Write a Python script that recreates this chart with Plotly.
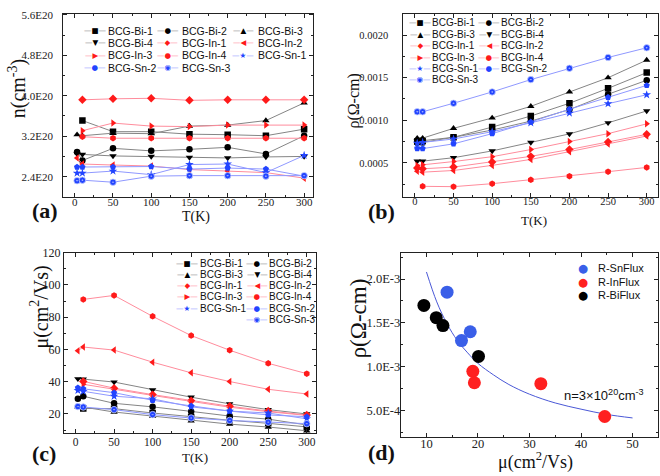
import plotly.graph_objects as go

W, H = 660, 476

# ---------------- data ----------------
T_full = [3, 10, 50, 100, 150, 200, 250, 300]
T_from10 = [10, 50, 100, 150, 200, 250, 300]

names = ["BCG-Bi-1", "BCG-Bi-2", "BCG-Bi-3", "BCG-Bi-4",
         "BCG-In-1", "BCG-In-2", "BCG-In-3", "BCG-In-4",
         "BCG-Sn-1", "BCG-Sn-2", "BCG-Sn-3"]

# (a) carrier concentration n (cm^-3)
n_bi1 = [3.51e20, 3.29e20, 3.29e20, 3.24e20, 3.23e20, 3.21e20, 3.34e20]
n_bi2 = [2.89e20, 2.72e20, 2.96e20, 2.91e20, 2.94e20, 2.98e20, 2.85e20, 3.21e20]
n_bi3 = [3.23e20, 3.21e20, 3.26e20, 3.25e20, 3.40e20, 3.42e20, 3.51e20, 3.86e20]
n_bi4 = [2.85e20, 2.84e20, 2.81e20, 2.80e20, 2.78e20, 2.77e20, 2.79e20, 2.80e20]
n_in1 = [3.92e20, 3.94e20, 3.95e20, 3.91e20, 3.92e20, 3.92e20, 3.92e20]
n_in2 = [2.77e20, 2.65e20, 2.63e20, 2.61e20, 2.54e20, 2.51e20, 2.48e20, 2.37e20]
n_in3 = [3.31e20, 3.46e20, 3.40e20, 3.39e20, 3.42e20, 3.42e20, 3.42e20]
n_in4 = [3.19e20, 3.16e20, 3.16e20, 3.16e20, 3.16e20, 3.16e20, 3.16e20]
n_sn1 = [2.47e20, 2.47e20, 2.51e20, 2.44e20, 2.64e20, 2.65e20, 2.48e20, 2.82e20]
n_sn2 = [2.59e20, 2.59e20, 2.59e20, 2.60e20, 2.55e20, 2.57e20, 2.55e20, 2.41e20]
n_sn3 = [2.32e20, 2.33e20, 2.29e20, 2.41e20, 2.42e20, 2.42e20, 2.41e20, 2.42e20]

# (b) resistivity rho (Ohm-cm)
rho_bi1 = [0.00075, 0.00076, 0.00080, 0.00092, 0.00105, 0.00120, 0.001375, 0.00156]
rho_bi2 = [0.00074, 0.00074, 0.00080, 0.000885, 0.00099, 0.001126, 0.001306, 0.00147]
rho_bi3 = [0.00079, 0.00079, 0.000905, 0.001027, 0.001164, 0.001333, 0.00150, 0.001707]
rho_bi4 = [0.00052, 0.00052, 0.00056, 0.00064, 0.00074, 0.00084, 0.00097, 0.00111]
rho_in1 = [0.00044, 0.00043, 0.00045, 0.00051, 0.000576, 0.000656, 0.000744, 0.000835]
rho_in2 = [0.00040, 0.00039, 0.00041, 0.00047, 0.00054, 0.00063, 0.00072, 0.000815]
rho_in3 = [0.00047, 0.000476, 0.000515, 0.000572, 0.000656, 0.00075, 0.000843, 0.000958]
rho_in4 = [0.000224, 0.00022, 0.000255, 0.00030, 0.000343, 0.000396, 0.000446]
rho_sn1 = [0.00073, 0.00074, 0.00078, 0.000866, 0.00097, 0.001084, 0.001195, 0.00130]
rho_sn2 = [0.000667, 0.000667, 0.000723, 0.000843, 0.00098, 0.00113, 0.00127, 0.00141]
rho_sn3 = [0.00110, 0.00110, 0.00120, 0.001333, 0.001478, 0.001611, 0.001738, 0.001852]

# (c) mobility mu (cm^2/Vs)
mu_bi1 = [23.4, 23.3, 20.6, 18.2, 16.1, 14.2, 12.0]
mu_bi2 = [29.4, 31.0, 26.6, 24.4, 21.6, 18.7, 16.8, 13.2]
mu_bi3 = [24.4, 24.3, 21.2, 18.7, 15.8, 13.7, 11.9, 9.6]
mu_bi4 = [41.8, 41.6, 39.8, 34.9, 30.4, 26.3, 22.7, 20.0]
mu_in1 = [40.2, 36.0, 32.0, 28.2, 24.8, 21.8, 19.4]
mu_in2 = [59.2, 61.5, 59.6, 52.1, 45.5, 40.1, 35.3, 32.4]
mu_in3 = [38.4, 35.2, 31.5, 27.8, 24.2, 21.4, 19.1]
mu_in4 = [91.0, 93.5, 80.5, 68.6, 59.5, 51.4, 45.0]
mu_sn1 = [34.6, 34.0, 31.0, 29.4, 24.4, 21.8, 20.6, 17.0]
mu_sn2 = [36.2, 35.6, 33.2, 28.5, 25.0, 21.8, 19.4, 18.3]
mu_sn3 = [24.6, 24.3, 22.7, 19.6, 17.5, 16.0, 14.9, 14.0]

# (d) rho vs mu at 300 K
d_mu_sn = [14.0, 16.8, 18.5]
d_rho_sn = [0.00185, 0.00130, 0.00140]
d_mu_in = [19.0, 19.3, 32.2, 44.6]
d_rho_in = [0.00095, 0.00082, 0.00081, 0.000436]
d_mu_bi = [9.5, 11.9, 13.2, 20.1]
d_rho_bi = [0.00170, 0.00156, 0.00147, 0.00112]
fit_mu = [10, 12, 14, 16, 18, 20, 23, 26, 30, 35, 40, 45, 50]
fit_rho = [0.00208, 0.00174, 0.00149, 0.00130, 0.00116, 0.00104, 0.00091,
           0.00080, 0.00069, 0.00059, 0.00052, 0.00046, 0.00042]

# tick labels
a_yticks = [2.4e20, 3.2e20, 4.0e20, 4.8e20, 5.6e20]
a_yticktext = ["2.4E20", "3.2E20", "4.0E20", "4.8E20", "5.6E20"]
d_yticks = [0.0005, 0.0010, 0.0015, 0.0020]
d_yticktext = ["5.0E-4", "1.0E-3", "1.5E-3", "2.0E-3"]

# ---------------- styles ----------------
BI_LINE, BI_MARK = "#858585", "#000000"
IN_LINE, IN_MARK = "#ff8c9c", "#ff1a1a"
SN_LINE, SN_MARK = "#8f98ff", "#2244ff"

style = {
    "BCG-Bi-1": ("square", BI_LINE, BI_MARK, "■"),
    "BCG-Bi-2": ("circle", BI_LINE, BI_MARK, "●"),
    "BCG-Bi-3": ("triangle-up", BI_LINE, BI_MARK, "▲"),
    "BCG-Bi-4": ("triangle-down", BI_LINE, BI_MARK, "▼"),
    "BCG-In-1": ("diamond", IN_LINE, IN_MARK, "◆"),
    "BCG-In-2": ("triangle-left", IN_LINE, IN_MARK, "◀"),
    "BCG-In-3": ("triangle-right", IN_LINE, IN_MARK, "▶"),
    "BCG-In-4": ("hexagon", IN_LINE, IN_MARK, "●"),
    "BCG-Sn-1": ("star", SN_LINE, SN_MARK, "★"),
    "BCG-Sn-2": ("pentagon", SN_LINE, SN_MARK, "●"),
    "BCG-Sn-3": ("circle-dot", SN_LINE, SN_MARK, "◉"),
}

panel_a = {"BCG-Bi-1": (T_from10, n_bi1), "BCG-Bi-2": (T_full, n_bi2),
           "BCG-Bi-3": (T_full, n_bi3), "BCG-Bi-4": (T_full, n_bi4),
           "BCG-In-1": (T_from10, n_in1), "BCG-In-2": (T_full, n_in2),
           "BCG-In-3": (T_from10, n_in3), "BCG-In-4": (T_from10, n_in4),
           "BCG-Sn-1": (T_full, n_sn1), "BCG-Sn-2": (T_full, n_sn2),
           "BCG-Sn-3": (T_full, n_sn3)}
panel_b = {"BCG-Bi-1": (T_full, rho_bi1), "BCG-Bi-2": (T_full, rho_bi2),
           "BCG-Bi-3": (T_full, rho_bi3), "BCG-Bi-4": (T_full, rho_bi4),
           "BCG-In-1": (T_full, rho_in1), "BCG-In-2": (T_full, rho_in2),
           "BCG-In-3": (T_full, rho_in3), "BCG-In-4": (T_from10, rho_in4),
           "BCG-Sn-1": (T_full, rho_sn1), "BCG-Sn-2": (T_full, rho_sn2),
           "BCG-Sn-3": (T_full, rho_sn3)}
panel_c = {"BCG-Bi-1": (T_from10, mu_bi1), "BCG-Bi-2": (T_full, mu_bi2),
           "BCG-Bi-3": (T_full, mu_bi3), "BCG-Bi-4": (T_full, mu_bi4),
           "BCG-In-1": (T_from10, mu_in1), "BCG-In-2": (T_full, mu_in2),
           "BCG-In-3": (T_from10, mu_in3), "BCG-In-4": (T_from10, mu_in4),
           "BCG-Sn-1": (T_full, mu_sn1), "BCG-Sn-2": (T_full, mu_sn2),
           "BCG-Sn-3": (T_full, mu_sn3)}

fig = go.Figure()

def add_series(panel, xa, ya):
    for nm in names:
        x, y = panel[nm]
        sym, lc, mc, _ = style[nm]
        mline = dict(width=0.8, color="#c8d0ff") if sym == "circle-dot" else dict(width=0)
        fig.add_trace(go.Scatter(
            x=x, y=y, mode="lines+markers", name=nm, showlegend=False,
            xaxis=xa, yaxis=ya,
            line=dict(color=lc, width=1),
            marker=dict(symbol=sym, size=6.5, color=mc, line=mline)))

add_series(panel_a, "x", "y")
add_series(panel_b, "x2", "y2")
add_series(panel_c, "x3", "y3")

# panel d
fig.add_trace(go.Scatter(x=fit_mu, y=fit_rho, mode="lines", line=dict(color="#4a58d6", width=1, shape="spline"),
                         showlegend=False, xaxis="x4", yaxis="y4", name="fit"))
for nm, xs, ys, col in [("R-SnFlux", d_mu_sn, d_rho_sn, "#3a5fe8"),
                        ("R-InFlux", d_mu_in, d_rho_in, "#ff2020"),
                        ("R-BiFlux", d_mu_bi, d_rho_bi, "#000000")]:
    fig.add_trace(go.Scatter(x=xs, y=ys, mode="markers", name=nm, showlegend=False,
                             xaxis="x4", yaxis="y4",
                             marker=dict(symbol="circle", size=13, color=col, line=dict(width=0))))

# ---------------- axes ----------------
def px_x(v):
    return v / W

def px_y(v):
    return 1 - v / H

def axis(dom, rng, fsize, standoff, **kw):
    d = dict(domain=dom, range=rng, showline=True, linecolor="#222", linewidth=1,
             mirror="ticks", ticks="inside", ticklen=4, tickwidth=1, tickcolor="#222",
             showgrid=False, zeroline=False,
             tickfont=dict(family="Liberation Serif", size=fsize, color="#222"),
             ticklabelstandoff=standoff)
    d.update(kw)
    return d

def minor(dt, **kw):
    m = dict(ticks="inside", ticklen=2, tickcolor="#222", showgrid=False, dtick=dt, tick0=0)
    m.update(kw)
    return m

AX_XA = [px_x(63.3), px_x(313.3)]
AX_XB = [px_x(403.3), px_x(658.3)]
AX_XC = [px_x(64), px_x(316)]
AX_XD = [px_x(400.7), px_x(658.3)]
AX_YTOP = [px_y(192.7), px_y(7)]
AX_YBOT_C = [px_y(432.7), px_y(249.3)]
AX_YBOT_D = [px_y(436.7), px_y(249.3)]

layout_axes = dict(
    xaxis=axis(AX_XA, [-15, 312], 11, -5, anchor="y", tickmode="linear", tick0=0, dtick=50,
               minor=minor(25)),
    yaxis=axis(AX_YTOP, [2.0e20, 5.62e20], 11, 7, anchor="x", tickmode="array",
               tickvals=a_yticks, ticktext=a_yticktext, minor=minor(0.4e20, tickmode="linear")),
    xaxis2=axis(AX_XB, [-15, 315], 10.5, -5, anchor="y2", tickmode="linear", tick0=0, dtick=50,
                minor=minor(25)),
    yaxis2=axis(AX_YTOP, [0.0001, 0.00225], 10.5, 12, anchor="x2", tickmode="linear", tick0=0,
                dtick=0.0005, tickformat=".4f", minor=minor(0.00025)),
    xaxis3=axis(AX_XC, [-15, 312], 11.5, -2, anchor="y3", tickmode="linear", tick0=0, dtick=50,
                minor=minor(25)),
    yaxis3=axis(AX_YBOT_C, [8, 120], 12, 0, anchor="x3", tickmode="linear", tick0=0, dtick=20,
                minor=minor(10)),
    xaxis4=axis(AX_XD, [5, 55], 12.5, -5, anchor="y4", tickmode="linear", tick0=0, dtick=10,
                minor=minor(5)),
    yaxis4=axis(AX_YBOT_D, [0.0002, 0.0023], 12.5, -3, anchor="x4", tickmode="array",
                tickvals=d_yticks, ticktext=d_yticktext, minor=minor(0.00025, tickmode="linear")),
)

# ---------------- annotations ----------------
ann = []

def text_at(x, y, txt, size, family="Liberation Serif", angle=0, color="#111", xanchor="center"):
    ann.append(dict(xref="paper", yref="paper", x=px_x(x), y=px_y(y), text=txt, showarrow=False,
                    textangle=angle, xanchor=xanchor, yanchor="middle", borderpad=0,
                    font=dict(family=family, size=size, color=color)))

def legend_entry(nm, kx, tx, y, fsize):
    sym, lc, mc, glyph = style[nm]
    key = f"<span style='color:{lc}'>—</span>{glyph}<span style='color:{lc}'>—</span>"
    ann.append(dict(xref="paper", yref="paper", x=px_x(kx), y=px_y(y), text=key, showarrow=False,
                    xanchor="center", yanchor="middle", borderpad=0,
                    font=dict(family="DejaVu Sans", size=7.5, color=mc)))
    text_at(tx, y, nm, fsize, family="Liberation Sans", xanchor="left")

# legend (a): 3 columns
rows_a = [24, 36.5, 49, 61.5]
cols_a = [(95, 107), (168, 181), (243, 257)]
for i, nm in enumerate(names):
    r, c = divmod(i, 3)
    legend_entry(nm, cols_a[c][0], cols_a[c][1], rows_a[r], 10.5)

# legend (b): 2 columns
rows_b = [16, 27.6, 39.2, 50.8, 62.4, 74]
cols_b = [(420, 431), (489, 499.5)]
for i, nm in enumerate(names):
    r, c = divmod(i, 2)
    legend_entry(nm, cols_b[c][0], cols_b[c][1], rows_b[r], 10)

# legend (c): 2 columns, last entry in right column
rows_c = [260, 271.4, 282.8, 294.2, 305.6, 317]
cols_c = [(187, 199), (257, 268)]
for i, nm in enumerate(names):
    r, c = divmod(i, 2)
    if nm == "BCG-Sn-3":
        r, c = 5, 1
    legend_entry(nm, cols_c[c][0], cols_c[c][1], rows_c[r], 10)

# legend (d)
for nm, col, y in [("R-SnFlux", "#3a5fe8", 265), ("R-InFlux", "#ff2020", 278.7), ("R-BiFlux", "#000000", 292.4)]:
    text_at(582.5, y, "●", 11.5, family="DejaVu Sans", color=col)
    text_at(597, y, nm, 11, family="Liberation Sans", xanchor="left")

# axis titles
text_at(17, 83.5, "n(cm<sup>-3</sup>)", 20, angle=-90)
text_at(195.5, 213.5, "T(K)", 14)
text_at(354, 96, "ρ(Ω-cm)", 16, angle=-90)
text_at(534, 216.5, "T(K)", 13)
text_at(40, 305, "μ(cm<sup>2</sup>/Vs)", 20, angle=-90)
text_at(195, 457, "T(K)", 13)
text_at(358, 316, "ρ(Ω-cm)", 23, angle=-90)
text_at(535.5, 461, "μ(cm<sup>2</sup>/Vs)", 18)

# panel letters
text_at(44.5, 206.7, "<b>(a)</b>", 22)
text_at(382, 207.5, "<b>(b)</b>", 22)
text_at(44, 453.5, "<b>(c)</b>", 22)
text_at(381.5, 452.5, "<b>(d)</b>", 22)

# model annotation
text_at(604, 393.5, "n=3×10<sup>20</sup>cm<sup>-3</sup>", 13, family="Liberation Sans")

fig.update_layout(
    width=W, height=H, margin=dict(l=0, r=0, t=0, b=0),
    paper_bgcolor="white", plot_bgcolor="white",
    showlegend=False, annotations=ann, **layout_axes)

fig.write_html("out.html", config={"displayModeBar": False},
               post_script="document.body.style.margin='0';")
